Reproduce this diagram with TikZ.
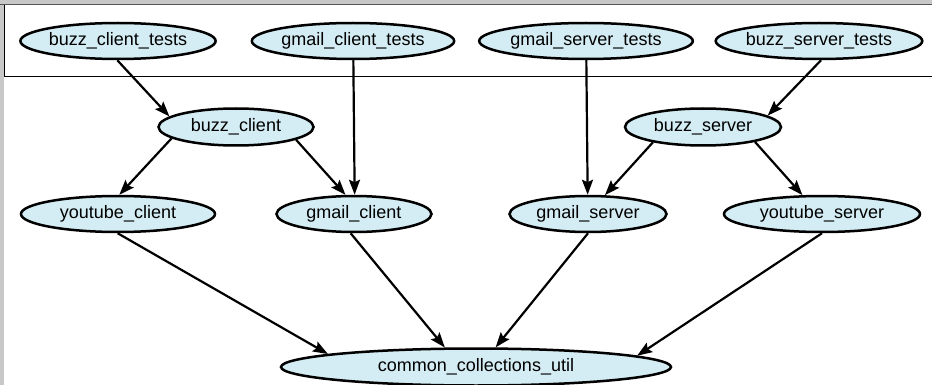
\documentclass[tikz,border=0pt]{standalone}
\usepackage{fontspec}
\setmainfont{Liberation Sans}
\usetikzlibrary{arrows.meta,shapes.geometric}
\definecolor{nodefill}{HTML}{D4ECF3}
\definecolor{bggray}{HTML}{C8C8C8}
\definecolor{framedark}{HTML}{555555}
\begin{document}
\begin{tikzpicture}[x=1pt,y=-1pt,
  dep/.style={ellipse, draw=black, line width=2.5pt, fill=nodefill, inner sep=0pt,
    font=\fontsize{18}{20}\selectfont, minimum height=36pt},
  link/.style={-{Stealth[length=15pt,width=11pt,inset=2.5pt]}, line width=2.2pt}]
\useasboundingbox (0,0) rectangle (932,385);
\clip (0,0) rectangle (932,385);
\fill[bggray] (0,0) rectangle (932,385);
\fill[white] (4,4) rectangle (932,385);
\draw[line width=1pt] (4.5,4.5) rectangle (936,77);
\draw[framedark, line width=1.5pt] (0,4.5) -- (932,4.5);

\node[dep, minimum width=194pt] (bct) at (118,41) {buzz\_client\_tests};
\node[dep, minimum width=196pt] (gct) at (353,41) {gmail\_client\_tests};
\node[dep, minimum width=195pt] (gst) at (586,41) {gmail\_server\_tests};
\node[dep, minimum width=195pt] (bst) at (819,41) {buzz\_server\_tests};
\node[dep, minimum width=155pt, minimum height=37pt] (bc) at (236,127) {buzz\_client};
\node[dep, minimum width=156pt, minimum height=37pt] (bs) at (703,127) {buzz\_server};
\node[dep, minimum width=194pt] (yc) at (118,214) {youtube\_client};
\node[dep, minimum width=155pt] (gc) at (354,214) {gmail\_client};
\node[dep, minimum width=157pt] (gs) at (588,214) {gmail\_server};
\node[dep, minimum width=196pt] (ys) at (822,214) {youtube\_server};
\node[dep, minimum width=390pt, minimum height=37pt] (ccu) at (476,367) {common\_collections\_util};

\draw[link] (bct.-92) -- (bc.171);
\draw[link] (gct.-89) -- (gc.88);
\draw[link] (gst.-89) -- (gs.91);
\draw[link] (bst.-84) -- (bs.10);
\draw[link] (bc.190) -- (yc.86);
\draw[link] (bc.-12) -- (gc.114);
\draw[link] (bs.197) -- (gs.48);
\draw[link] (bs.-16) -- (ys.136);
\draw[link] (yc.-91) -- (ccu.175.6);
\draw[link] (gc.-100) -- (ccu.148);
\draw[link] (gs.-90) -- (ccu.45);
\draw[link] (ys.-90) -- (ccu.4.8);
\end{tikzpicture}
\end{document}
